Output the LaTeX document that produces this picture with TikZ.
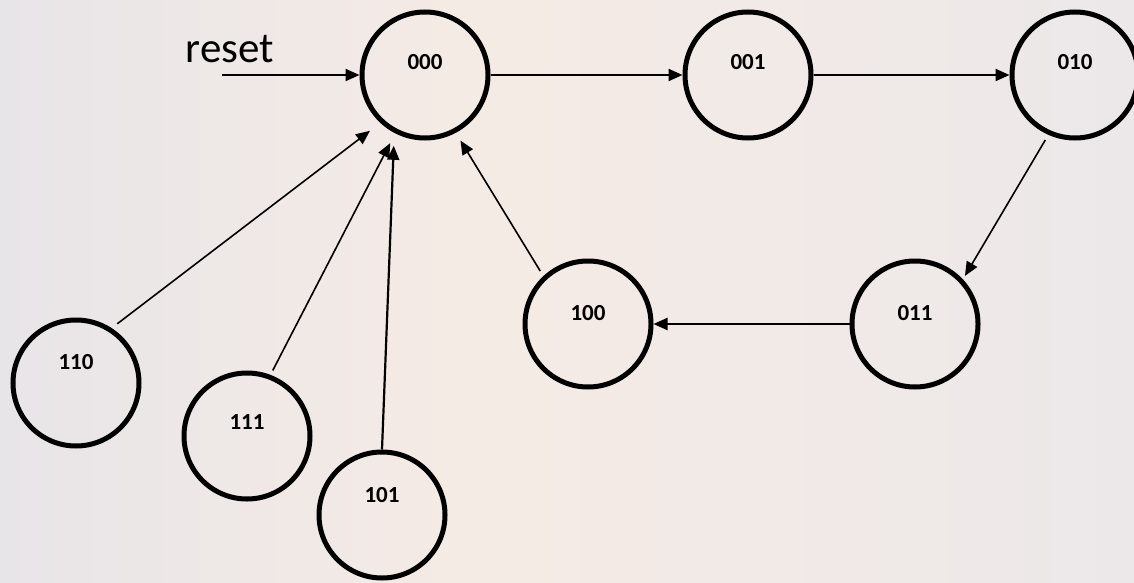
\documentclass[tikz,border=0pt]{standalone}
\usepackage{fontspec}
\setmainfont{Carlito}
\usetikzlibrary{arrows.meta}
\definecolor{bgleft}{RGB}{232,229,232}
\definecolor{bgwarm}{RGB}{245,235,229}
\definecolor{bgright}{RGB}{236,232,233}
\tikzset{
  state/.style={circle, draw=black, line width=5pt, minimum size=126pt, inner sep=0pt},
  statelbl/.style={font=\fontsize{23}{23}\selectfont\bfseries},
  trans/.style={draw=black, line width=2.2pt, -{Triangle[length=14pt,width=12pt]}},
  thin trans/.style={trans, line width=1.6pt},
}
\begin{document}
\begin{tikzpicture}[x=1pt, y=-1pt]
  % soft backdrop: cool grey at the sides, warm in the middle
  \shade[left color=bgleft, right color=bgwarm] (0,0) rectangle (470,583);
  \shade[left color=bgwarm, right color=bgright] (470,0) rectangle (1134,583);
  \useasboundingbox (0,0) rectangle (1134,583);

  % states
  \node[state] (n000) at (425,75)  {};
  \node[state] (n001) at (748,75)  {};
  \node[state] (n010) at (1075,75) {};
  \node[state] (n011) at (915,324) {};
  \node[state] (n100) at (588,324) {};
  \node[state] (n110) at (76,383)  {};
  \node[state] (n111) at (247,436) {};
  \node[state] (n101) at (382,515) {};

  \node[statelbl] (t000) at (425,62)  {000};
  \node[statelbl] (t001) at (748,62)  {001};
  \node[statelbl] (t010) at (1075,62) {010};
  \node[statelbl] (t011) at (915,313) {011};
  \node[statelbl] (t100) at (588,313) {100};
  \node[statelbl] (t110) at (76,362)  {110};
  \node[statelbl] (t111) at (247,422) {111};
  \node[statelbl] (t101) at (382,495) {101};

  % reset input
  \coordinate (rst) at (222,75);
  \node[font=\fontsize{43}{43}\selectfont, anchor=base] (treset) at (230,63) {reset};
  \draw[trans] (rst) -- (n000.west);

  % transitions
  \draw[trans] (n000.east) -- (n001.west);
  \draw[trans] (n001.east) -- (n010.west);
  \draw[thin trans, shorten <=6pt, shorten >=4pt] (n010.246) -- (n011.43);
  \draw[trans] (n011.west) -- (n100.east);
  \draw[thin trans, shorten <=6pt, shorten >=9pt] (n100.133) -- (n000.298);
  \draw[thin trans, shorten <=7pt, shorten >=13pt] (n110.57) -- (n000.227);
  \draw[thin trans, shorten <=5pt, shorten >=11pt] (n111.69) -- (n000.243);
  \draw[trans, shorten >=13pt] (n101.north) -- (n000.242);
\end{tikzpicture}
\end{document}
